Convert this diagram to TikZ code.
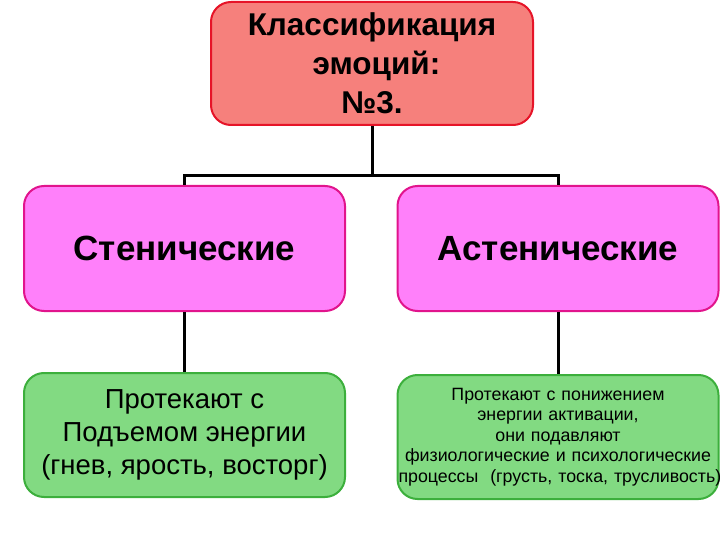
\documentclass[tikz,border=0pt]{standalone}
\usepackage{fontspec}
\setmainfont{Liberation Sans}
\begin{document}
\begin{tikzpicture}[x=1pt,y=-1pt,
  box/.style={draw,line width=2pt,rounded corners=20pt,align=center,inner sep=0pt},
  topbox/.style={box,draw={rgb,255:red,230;green,20;blue,40},fill={rgb,255:red,246;green,128;blue,124},minimum width=322pt,minimum height=123pt},
  midbox/.style={box,draw={rgb,255:red,225;green,20;blue,140},fill={rgb,255:red,255;green,128;blue,250},minimum width=321pt,minimum height=125pt},
  lowbox/.style={box,draw={rgb,255:red,60;green,175;blue,60},fill={rgb,255:red,130;green,218;blue,130},minimum width=321pt,minimum height=124pt},
  conn/.style={line width=3pt,black}]
\useasboundingbox (0,0) rectangle (720,540);
\node[topbox,font=\fontsize{31.5}{39}\selectfont\bfseries] (top) at (372,63.5) {Классификация\\ \ эмоций:\\ №3.};
\node[midbox,font=\fontsize{35}{40}\selectfont\bfseries] (m1) at (184.5,248.5) {Стенические};
\node[midbox,font=\fontsize{35}{40}\selectfont\bfseries] (m2) at (558,248.5) {Астенические};
\node[lowbox,font=\fontsize{27.5}{33}\selectfont] (g1) at (184.5,435) {Протекают с\\ Подъемом энергии\\ (гнев, ярость, восторг)};
\node[lowbox,text width=319pt,font=\fontsize{17.8}{20.5}\selectfont] (g2) at (558,437) {Протекают с понижением\\ энергии активации,\\ они подавляют\\ физиологические и психологические\\ \mbox{процессы\ \ (грусть, тоска, трусливость)}};
\coordinate (j) at (372,176);
\draw[conn] (top.south) -- (j);
\draw[conn] (m1.north) |- (j) -| (m2.north);
\draw[conn] (m1.south) -- (g1.north);
\draw[conn] (m2.south) -- (g2.north);
\end{tikzpicture}
\end{document}
